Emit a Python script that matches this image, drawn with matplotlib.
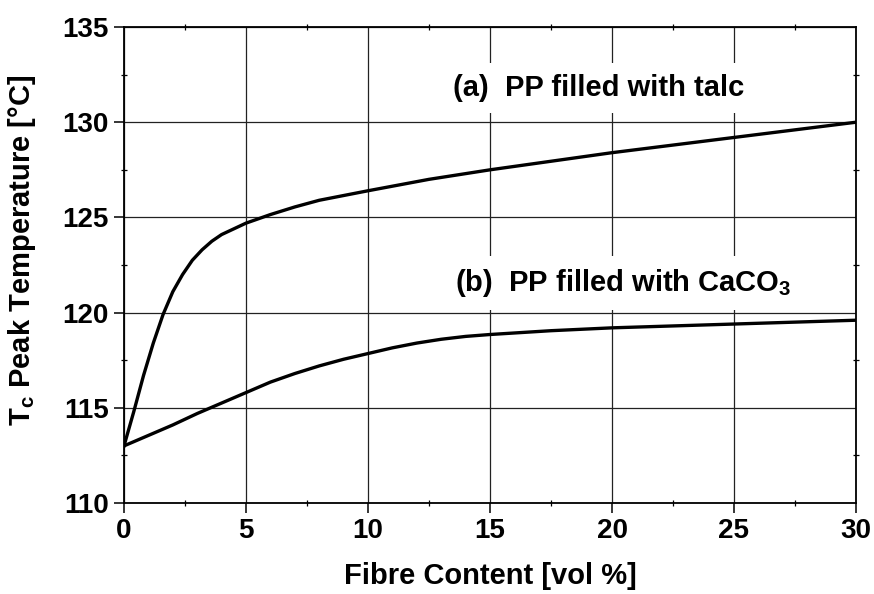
import numpy as np
import matplotlib
import matplotlib.pyplot as plt

matplotlib.use('Agg')

plt.rcParams['font.family'] = ['Liberation Sans', 'DejaVu Sans']
plt.rcParams['font.weight'] = 'bold'
plt.rcParams['mathtext.default'] = 'regular'

# values
talc_x = [0, 0.4, 0.8, 1.2, 1.6, 2.0, 2.4, 2.8, 3.2, 3.6, 4.0, 4.5, 5, 6, 7, 8, 9,
          10, 12.5, 15, 17.5, 20, 22.5, 25, 27.5, 30]
talc_y = [113.0, 114.8, 116.7, 118.4, 119.9, 121.1, 122.0, 122.75, 123.3, 123.75,
          124.1, 124.4, 124.7, 125.15, 125.55, 125.9, 126.15, 126.4, 127.0, 127.5,
          127.95, 128.4, 128.8, 129.2, 129.6, 130.0]

caco3_x = [0, 1, 2, 3, 4, 5, 6, 7, 8, 9, 10, 11, 12, 13, 14, 15, 17.5, 20, 22.5,
           25, 27.5, 30]
caco3_y = [113.0, 113.55, 114.1, 114.7, 115.25, 115.8, 116.35, 116.8, 117.2, 117.55,
           117.85, 118.15, 118.4, 118.6, 118.75, 118.85, 119.05, 119.2, 119.3, 119.4,
           119.5, 119.6]

x_ticks = [0, 5, 10, 15, 20, 25, 30]
y_ticks = [110, 115, 120, 125, 130, 135]

fig = plt.figure(figsize=(8.74, 5.94), dpi=100)
ax = fig.add_axes([0.1419, 0.1532, 0.9794 - 0.1419, 0.9545 - 0.1532])

ax.plot(talc_x, talc_y, color='black', lw=2.4, solid_joinstyle='round', zorder=4)
ax.plot(caco3_x, caco3_y, color='black', lw=2.4, solid_joinstyle='round', zorder=4)

ax.set_xlim(0, 30)
ax.set_ylim(110, 135)
ax.set_xticks(x_ticks)
ax.set_yticks(y_ticks)
ax.set_xticks(np.arange(2.5, 30, 5), minor=True)
ax.set_yticks(np.arange(112.5, 135, 5), minor=True)

ax.grid(True, which='major', color='#222222', lw=0.9, zorder=1)
ax.set_axisbelow(True)

for s in ax.spines.values():
    s.set_linewidth(1.3)
    s.set_zorder(5)

ax.tick_params(which='major', direction='out', length=7, width=1.1,
               labelsize=20, pad=4)
ax.tick_params(which='minor', direction='inout', length=4, width=0.9,
               top=True, right=True)
for lab in ax.get_xticklabels() + ax.get_yticklabels():
    lab.set_fontweight('bold')

ax.set_xlabel('Fibre Content [vol %]', fontsize=21, fontweight='bold', labelpad=13)
ax.set_ylabel(r'T$_\mathregular{c}$ Peak Temperature [°C]', fontsize=21,
              fontweight='bold')
ax.yaxis.set_label_coords(-0.117, 0.53)

box = dict(facecolor='white', edgecolor='none', pad=8)
ax.text(13.5, 131.38, '(a)  PP filled with talc', fontsize=21, fontweight='bold',
        ha='left', va='baseline', bbox=box, zorder=3)
ax.text(13.57, 121.12, r'(b)  PP filled with CaCO$_\mathregular{3}$', fontsize=21,
        fontweight='bold', ha='left', va='baseline', bbox=box, zorder=3)

fig.savefig('out.png', dpi=100)
